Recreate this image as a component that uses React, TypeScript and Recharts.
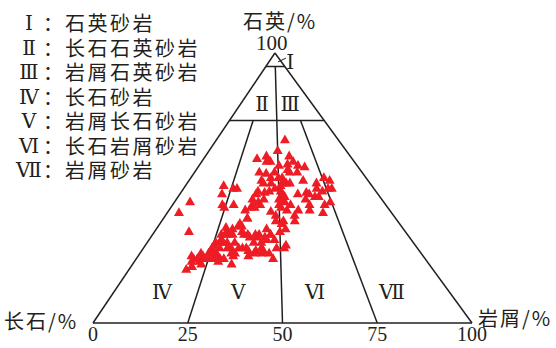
import React from "react";
import {
  ReferenceDot,
  ReferenceLine,
  Scatter,
  ScatterChart,
  XAxis,
  YAxis,
} from "recharts";

// sample compositions, percent
const quartz = [
  68, 64, 62, 61, 60, 60, 62, 60, 59, 58.5, 58, 58.5, 57, 56, 55.6, 54, 56, 56,
  56, 53, 52, 52, 54, 52, 52, 53, 52, 54, 53, 51, 50, 49, 48.5, 49, 50, 49, 50,
  50, 48, 48.5, 48, 47, 47, 46, 45, 43, 43, 42, 44, 49, 47, 46, 44, 48, 45, 44,
  42, 46, 44, 42, 44, 45, 41, 42, 40, 38, 41.5, 40, 38, 37, 38, 51, 48, 50, 44,
  44, 45, 41, 34, 39, 37, 36, 35.6, 34, 33, 33, 31, 30, 29, 28, 26, 25, 24, 25,
  25, 24, 23, 21, 20, 23, 24, 34, 33, 32, 33, 33, 32, 31, 33, 31, 30, 28, 28,
  28, 28, 27, 26, 27, 28, 27, 26, 24, 28, 28, 29, 28, 24, 24, 25, 22, 25, 35,
  33, 35, 34, 54, 52, 47, 46, 43, 50, 43, 48, 46, 44, 39, 36, 35, 33, 33, 33,
  32, 30, 30, 30, 30, 28, 26, 26, 26, 26, 28, 26, 30, 24, 26, 24, 21, 24, 23,
  22,
];
const lithic = [
  18, 18, 16, 14, 18, 17, 22, 24, 23, 26, 28, 21, 24, 17, 19, 21, 25, 27, 21,
  19, 20, 22, 24, 26, 27, 30, 34, 35, 37, 25, 24, 23, 22, 20, 35, 37, 38, 39,
  31, 33, 34, 36, 37, 20, 22, 21, 22, 20, 23, 26, 27, 28, 28, 27, 29, 31, 31,
  34, 36, 37, 40, 41, 41, 34, 34, 35, 27, 29, 30, 32, 32, 10, 11, 14, 16, 13,
  4, 3, 9, 22, 21, 21, 18, 19, 20, 18, 19, 19, 18, 18, 19, 21, 19, 17, 14, 15,
  15, 16, 15, 17, 18, 23, 24, 26, 27, 28, 30, 31, 31, 33, 23, 23, 22, 25, 26,
  28, 30, 30, 31, 32, 34, 36, 35, 37, 37, 20, 21, 23, 25, 26, 29, 29, 31, 34,
  33, 23, 25, 28, 27, 29, 13, 14, 20, 23, 21, 22, 22, 20, 19, 21, 25, 28, 28,
  20, 21, 18, 18, 18, 20, 24, 25, 27, 32, 30, 22, 16, 16, 16, 20, 22, 18,
];

const bottomTicks = [0, 25, 50, 75, 100];
const romans = ["Ⅰ", "Ⅱ", "Ⅲ", "Ⅳ", "Ⅴ", "Ⅵ", "Ⅶ"];
const classNames = [
  "石英砂岩",
  "长石石英砂岩",
  "岩屑石英砂岩",
  "长石砂岩",
  "岩屑长石砂岩",
  "长石岩屑砂岩",
  "岩屑砂岩",
];

// boundaries as [quartz, lithic] pairs
const boundaries: [number, number][][] = [
  [[0, 0], [0, 100]],
  [[0, 0], [100, 0]],
  [[0, 100], [100, 0]],
  [[95, 0], [95, 5]],
  [[75, 0], [75, 25]],
  [[95, 2.5], [0, 50]],
  [[75, 6.25], [0, 25]],
  [[75, 18.75], [0, 75]],
];

// the apex in the original drawing sits a little left of the middle
const APEX = 48;
const toXY = (q: number, l: number) => ({ x: l + (q * APEX) / 100, y: q });

const points = quartz.map((q, i) => toXY(q, lithic[i]));

const fieldLabels = [
  { x: 52, y: 96.7, text: "Ⅰ" },
  { x: 44.6, y: 81, text: "Ⅱ" },
  { x: 52, y: 81, text: "Ⅲ" },
  { x: 18.2, y: 11.5, text: "Ⅳ" },
  { x: 38.3, y: 11.5, text: "Ⅴ" },
  { x: 58.6, y: 11.5, text: "Ⅵ" },
  { x: 78.9, y: 11.5, text: "Ⅶ" },
];

const INK = "#231f20";
const SERIF = "'Liberation Serif', 'DejaVu Serif', serif";
const CJK = "'Noto Sans CJK SC', sans-serif";

const RedTriangle = (props: any) => {
  const { cx, cy } = props;
  if (cx == null || cy == null) return null;
  return (
    <polygon
      points={`${cx},${cy - 5} ${cx - 5},${cy + 3.8} ${cx + 5},${cy + 3.8}`}
      fill="#ee1c25"
    />
  );
};

const textBox = (left: number, top: number, font: string, size = 20) => ({
  position: "absolute" as const,
  left,
  top,
  fontSize: size,
  lineHeight: "20px",
  height: 20,
  fontFamily: font,
  whiteSpace: "nowrap" as const,
});

const App = () => {
  return (
    <div
      style={{
        position: "absolute",
        left: 0,
        top: 0,
        width: 556,
        height: 348,
        background: "#fff",
        color: INK,
      }}
    >
      <ScatterChart
        width={556}
        height={348}
        margin={{ top: 53, right: 84, bottom: 0, left: 93 }}
      >
        <XAxis
          type="number"
          dataKey="x"
          domain={[0, 100]}
          ticks={bottomTicks}
          axisLine={false}
          tickLine={false}
          height={25}
          tickSize={4}
          tickMargin={0}
          tick={{ fill: INK, fontSize: 20, fontFamily: SERIF }}
        />
        <YAxis type="number" dataKey="y" domain={[0, 100]} hide />
        {boundaries.map(([a, b], i) => (
          <ReferenceLine
            key={i}
            segment={[toXY(a[0], a[1]), toXY(b[0], b[1])]}
            stroke={INK}
            strokeWidth={1.5}
          />
        ))}
        <ReferenceLine
          segment={[
            { x: 48.8, y: 96.7 },
            { x: 50.9, y: 98.1 },
          ]}
          stroke={INK}
          strokeWidth={1}
        />
        {fieldLabels.map((f) => (
          <ReferenceDot
            key={f.text}
            x={f.x}
            y={f.y}
            r={0}
            stroke="none"
            label={{
              value: f.text,
              position: "center",
              fill: INK,
              fontSize: 20,
              fontFamily: SERIF,
            }}
          />
        ))}
        <Scatter
          data={points}
          shape={<RedTriangle />}
          isAnimationActive={false}
        />
      </ScatterChart>

      {romans.map((r, i) => (
        <React.Fragment key={r}>
          <div
            style={{
              ...textBox(16, 13 + i * 24.5, SERIF),
              width: 26,
              textAlign: "center",
            }}
          >
            {r}
          </div>
          <div style={textBox(43, 13 + i * 24.5, CJK)}>：</div>
          <div style={{ ...textBox(65, 13 + i * 24.5, CJK), letterSpacing: 2.5 }}>
            {classNames[i]}
          </div>
        </React.Fragment>
      ))}

      <div style={{ ...textBox(243, 11, CJK), letterSpacing: 2 }}>石英/%</div>
      <div style={textBox(256, 33, SERIF, 21)}>100</div>
      <div style={{ ...textBox(4, 311, CJK), letterSpacing: 2 }}>长石/%</div>
      <div style={{ ...textBox(478, 308, CJK), letterSpacing: 2 }}>岩屑/%</div>
    </div>
  );
};

export default App;
